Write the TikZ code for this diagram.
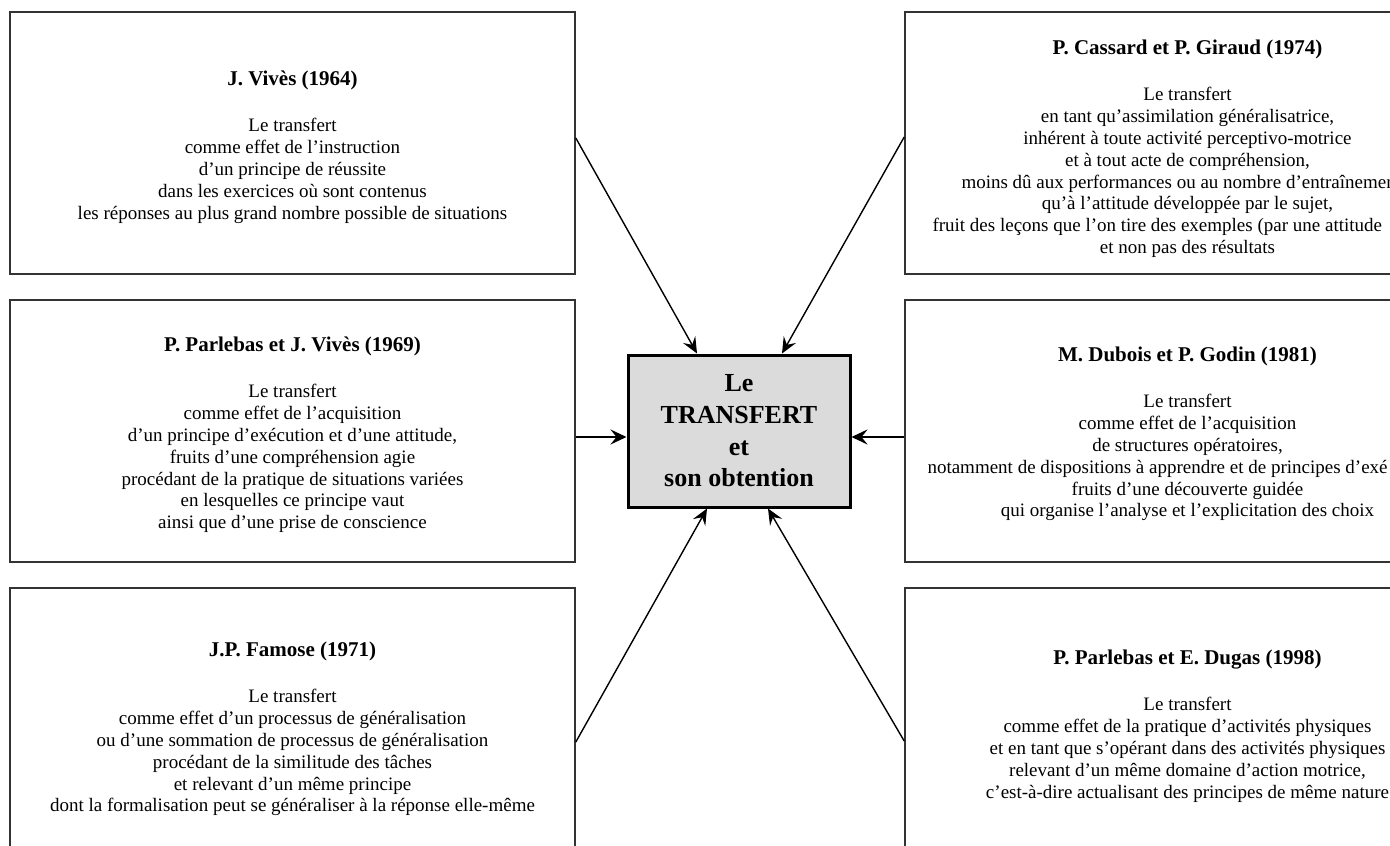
\documentclass[tikz,border=0pt]{standalone}
\usepackage{fontspec}
\setmainfont{Liberation Serif}
\usetikzlibrary{arrows.meta}

% author line of a card, followed by the gap before the quotation
\newcommand\cardhead[1]{{\fontsize{21}{21.9}\selectfont\bfseries #1}\\[24.1pt]}

\begin{document}
\begin{tikzpicture}[x=1pt,y=-1pt,
  card/.style={draw=black!80, line width=1.6pt, minimum width=565pt,
    minimum height=262pt, inner sep=0pt},
  cardtext/.style={anchor=north, align=center, inner sep=0pt,
    font=\fontsize{19}{21.9}\selectfont},
  hubbox/.style={draw=black, line width=3pt, fill=black!14,
    minimum width=222pt, minimum height=152pt, inner sep=0pt, align=center,
    font=\fontsize{26}{31.7}\selectfont\bfseries},
  feed/.style={line width=1.4pt, -{Stealth[length=16pt,width=14pt,inset=6pt]}},
  feedh/.style={line width=2.3pt, -{Stealth[length=16pt,width=15pt,inset=6pt]}}
]
\useasboundingbox (0,0) rectangle (1390,846);
\clip (0,0) rectangle (1390,846);
\fill[white] (0,0) rectangle (1390,846);

% left column
\node[card] (vives) at (292.5,143) {};
\node[card] (parvives) at (292.5,431) {};
\node[card] (famose) at (292.5,719) {};
% right column (runs past the page edge)
\node[card] (cassard) at (1187.5,143) {};
\node[card] (dubois) at (1187.5,431) {};
\node[card] (dugas) at (1187.5,719) {};

% central box
\node[hubbox] (hub) at (739,431) {Le\\TRANSFERT\\et\\son obtention};

% card contents
\node[cardtext] (vives-t) at ([yshift=-59.5pt]vives.north) {%
  \cardhead{J. Vivès (1964)}
  Le transfert\\
  comme effet de l’instruction\\
  d’un principe de réussite\\
  dans les exercices où sont contenus\\
  les réponses au plus grand nombre possible de situations};

\node[cardtext] (parvives-t) at ([yshift=-37.5pt]parvives.north) {%
  \cardhead{P. Parlebas et J. Vivès (1969)}
  Le transfert\\
  comme effet de l’acquisition\\
  d’un principe d’exécution et d’une attitude,\\
  fruits d’une compréhension agie\\
  procédant de la pratique de situations variées\\
  en lesquelles ce principe vaut\\
  ainsi que d’une prise de conscience};

\node[cardtext] (famose-t) at ([yshift=-54.5pt]famose.north) {%
  \cardhead{J.P. Famose (1971)}
  Le transfert\\
  comme effet d’un processus de généralisation\\
  ou d’une sommation de processus de généralisation\\
  procédant de la similitude des tâches\\
  et relevant d’un même principe\\
  dont la formalisation peut se généraliser à la réponse elle-même};

\node[cardtext] (cassard-t) at ([yshift=-28.5pt]cassard.north) {%
  \cardhead{P. Cassard et P. Giraud (1974)}
  Le transfert\\
  en tant qu’assimilation généralisatrice,\\
  inhérent à toute activité perceptivo-motrice\\
  et à tout acte de compréhension,\\
  \makebox[452pt][l]{moins dû aux performances ou au nombre d’entraînemen}\\
  qu’à l’attitude développée par le sujet,\\
  \makebox[510pt][l]{fruit des leçons que l’on tire des exemples (par une attitude}\\
  et non pas des résultats};

\node[cardtext] (dubois-t) at ([yshift=-47.5pt]dubois.north) {%
  \cardhead{M. Dubois et P. Godin (1981)}
  Le transfert\\
  comme effet de l’acquisition\\
  de structures opératoires,\\
  \makebox[520pt][l]{notamment de dispositions à apprendre et de principes d’exé}\\
  fruits d’une découverte guidée\\
  qui organise l’analyse et l’explicitation des choix};

\node[cardtext] (dugas-t) at ([yshift=-62.5pt]dugas.north) {%
  \cardhead{P. Parlebas et E. Dugas (1998)}
  Le transfert\\
  comme effet de la pratique d’activités physiques\\
  et en tant que s’opérant dans des activités physiques\\
  relevant d’un même domaine d’action motrice,\\
  c’est-à-dire actualisant des principes de même nature};

% connectors into the central box
\draw[feed] ([yshift=5pt]vives.east) -- ([xshift=-42pt]hub.north);
\draw[feed] ([yshift=6pt]cassard.west) -- ([xshift=43pt]hub.north);
\draw[feedh] ([yshift=-6pt]parvives.east) -- ([yshift=-6pt]hub.west);
\draw[feedh] ([yshift=-6pt]dubois.west) -- ([yshift=-6pt]hub.east);
\draw[feed] ([yshift=-23pt]famose.east) -- ([xshift=-32pt]hub.south);
\draw[feed] ([yshift=-22pt]dugas.west) -- ([xshift=29pt]hub.south);
\end{tikzpicture}
\end{document}
